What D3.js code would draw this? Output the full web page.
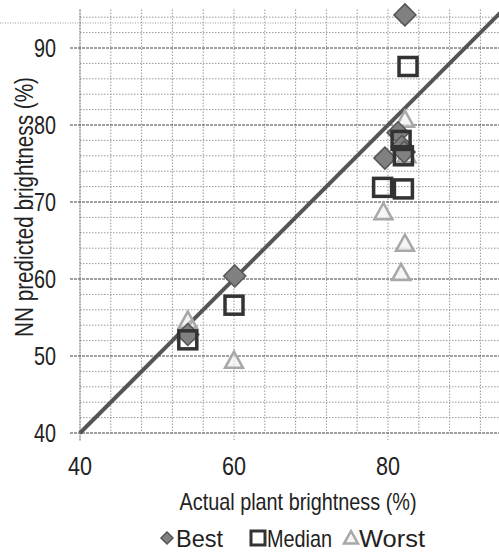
<!DOCTYPE html>
<html>
<head>
<meta charset="utf-8">
<script src="https://cdn.jsdelivr.net/npm/d3@7"></script>
<style>
  body { margin: 0; background: #fff; }
  svg text { font-family: "Liberation Sans", Arial, sans-serif; fill: #222; }
</style>
</head>
<body>
<svg id="mainSvg" width="499" height="555"></svg>
<script>
// values
var bestPts = [[54.0, 52.8], [60.1, 60.4], [79.6, 75.7], [81.3, 79.0], [81.8, 77.2], [82.1, 76.5], [82.2, 94.3]];
var medianPts = [[54.0, 52.1], [60.0, 56.6], [79.3, 71.9], [81.7, 78.0], [82.0, 76.0], [82.0, 71.7], [82.6, 87.6]];
var worstPts = [[54.0, 54.6], [60.0, 49.4], [79.4, 68.7], [81.7, 60.8], [82.2, 64.6], [82.2, 80.7], [82.4, 76.1]];
var xTicks = [40, 60, 80];
var yTicks = [40, 50, 60, 70, 80, 90];
var legendNames = ["Best", "Median", "Worst"];

var svg = d3.select("#mainSvg");
var x = d3.scaleLinear().domain([40, 100]).range([80, 542]);
var y = d3.scaleLinear().domain([40, 95]).range([433, 9.5]);
var xMax = 96, yMax = 94;

// narrow look: squeeze text to the widths measured on the scan
function narrow(sel, w) {
  return sel.attr("textLength", w).attr("lengthAdjust", "spacingAndGlyphs");
}

// scan artifact line at the top
svg.append("line").attr("x1", 0).attr("y1", 23).attr("x2", 499).attr("y2", 23)
  .attr("stroke", "#999").attr("stroke-dasharray", "1,1.5");

// grid
var grid = svg.append("g");
grid.selectAll("line.hminor").data(d3.range(42, yMax + 1, 2).filter(function(v) { return v % 10 != 0; }))
  .enter().append("line")
  .attr("x1", x(40)).attr("x2", 499).attr("y1", function(d) { return y(d); }).attr("y2", function(d) { return y(d); })
  .attr("stroke", "#999").attr("stroke-dasharray", "1.5,1.5");
grid.selectAll("line.v").data(d3.range(44, xMax + 1, 4))
  .enter().append("line")
  .attr("x1", function(d) { return x(d); }).attr("x2", function(d) { return x(d); })
  .attr("y1", y(95)).attr("y2", function(d) { return d % 20 == 0 ? y(40) + 8 : y(40); })
  .attr("stroke", "#999").attr("stroke-dasharray", "1.5,1.5");
grid.selectAll("line.hmajor").data(yTicks)
  .enter().append("line")
  .attr("x1", x(40) - 10).attr("x2", 499).attr("y1", function(d) { return y(d); }).attr("y2", function(d) { return y(d); })
  .attr("stroke", "#444").attr("stroke-width", 1.2).attr("stroke-dasharray", "3,1");
svg.append("line").attr("x1", x(40)).attr("x2", x(40)).attr("y1", y(95)).attr("y2", y(40) + 8)
  .attr("stroke", "#555").attr("stroke-dasharray", "2,1");

// y = x reference line
svg.append("line").attr("x1", x(40)).attr("y1", y(40)).attr("x2", x(95)).attr("y2", y(95))
  .attr("stroke", "#555").attr("stroke-width", 4);

// markers
function diamond(g, s) {
  return g.append("path").attr("d", "M0," + (-s) + "L" + s + ",0L0," + s + "L" + (-s) + ",0Z")
    .attr("fill", "#808080").attr("stroke", "#555").attr("stroke-width", 1.5);
}
function square(g, s) {
  return g.append("rect").attr("x", -s).attr("y", -s).attr("width", 2 * s).attr("height", 2 * s)
    .attr("fill", "none").attr("stroke", "#333").attr("stroke-width", 3.5);
}
function triangle(g, s) {
  return g.append("path").attr("d", "M0," + (-s) + "L" + s + "," + (s * 0.8) + "L" + (-s) + "," + (s * 0.8) + "Z")
    .attr("fill", "#eee").attr("fill-opacity", 0.6).attr("stroke", "#a8a8a8").attr("stroke-width", 2.5);
}

svg.append("g").selectAll("g").data(worstPts).enter().append("g")
  .attr("transform", function(d) { return "translate(" + x(d[0]) + "," + y(d[1]) + ")"; })
  .each(function() { triangle(d3.select(this), 9); });
svg.append("g").selectAll("g").data(bestPts).enter().append("g")
  .attr("transform", function(d) { return "translate(" + x(d[0]) + "," + y(d[1]) + ")"; })
  .each(function() { diamond(d3.select(this), 11); });
svg.append("g").selectAll("g").data(medianPts).enter().append("g")
  .attr("transform", function(d) { return "translate(" + x(d[0]) + "," + y(d[1]) + ")"; })
  .each(function() { square(d3.select(this), 9); });

// tick labels
narrow(svg.selectAll("text.xt").data(xTicks).enter().append("text")
  .attr("x", function(d) { return x(d); }).attr("y", 475)
  .attr("text-anchor", "middle").attr("font-size", 26).text(function(d) { return d; }), 24);
narrow(svg.selectAll("text.yt").data(yTicks).enter().append("text")
  .attr("x", 56).attr("y", function(d) { return y(d) + 9; })
  .attr("text-anchor", "end").attr("font-size", 26).text(function(d) { return d; }), 22);

// axis titles
narrow(svg.append("text").attr("x", 298).attr("y", 510).attr("text-anchor", "middle")
  .attr("font-size", 24).text("Actual plant brightness (%)"), 237);
narrow(svg.append("text").attr("transform", "translate(33,207) rotate(-90)").attr("text-anchor", "middle")
  .attr("font-size", 25).text("NN predicted brightness (%)"), 260);

// legend
var leg = svg.append("g").attr("transform", "translate(0,538)");
diamond(leg.append("g").attr("transform", "translate(167,0)"), 6);
narrow(leg.append("text").attr("x", 176).attr("y", 9).attr("font-size", 24).text(legendNames[0]), 47);
square(leg.append("g").attr("transform", "translate(258,0)"), 7).attr("stroke-width", 3);
narrow(leg.append("text").attr("x", 267).attr("y", 9).attr("font-size", 24).text(legendNames[1]), 65);
triangle(leg.append("g").attr("transform", "translate(351,0)"), 7);
narrow(leg.append("text").attr("x", 359).attr("y", 9).attr("font-size", 24).text(legendNames[2]), 66);
</script>
</body>
</html>
